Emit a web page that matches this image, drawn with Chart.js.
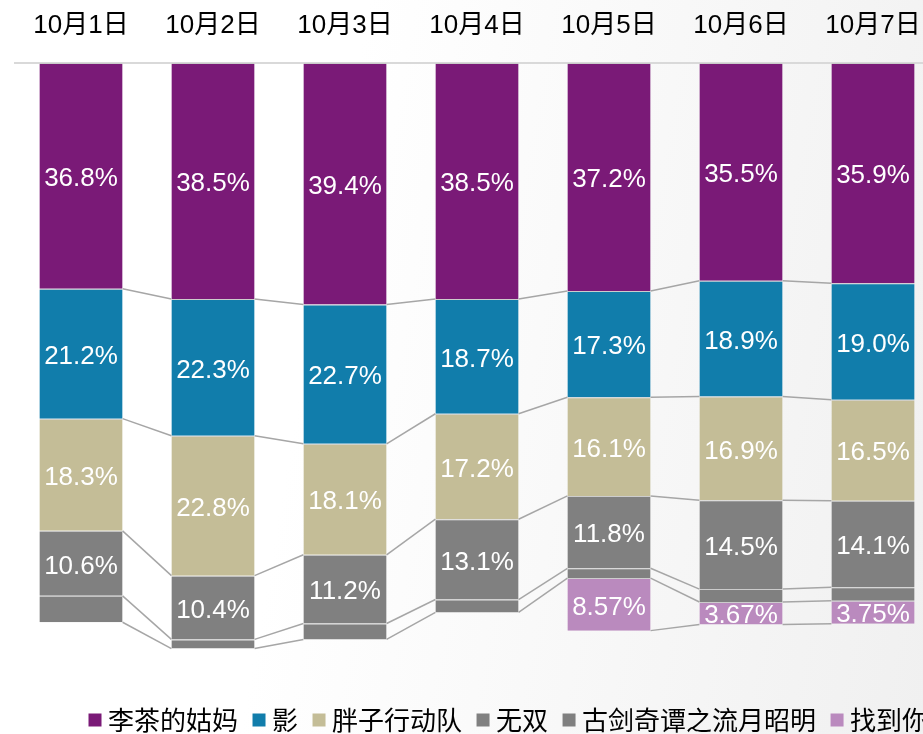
<!DOCTYPE html>
<html lang="zh">

<head>
    <meta charset="UTF-8">
    <meta name="viewport" content="width=device-width, initial-scale=1.0">
    <title>国庆档票房占比</title>
    <script src="https://cdn.jsdelivr.net/npm/chart.js"></script>
    <style>
        body {
            margin: 0;
            overflow: hidden;
            background: linear-gradient(100deg, #ffffff 35%, #f0f0f0 100%);
        }

        .area_grafico {
            position: relative;
            width: 960px;
            height: 734px;
        }
    </style>
</head>

<body>
    <div class="area_grafico">
        <canvas id="grafico"></canvas>
    </div>
</body>
<script>
    // dados (percentual por dia)
    const dias = ['10月1日', '10月2日', '10月3日', '10月4日', '10月5日', '10月6日', '10月7日'];
    const liCha = [36.8, 38.5, 39.4, 38.5, 37.2, 35.5, 35.9];
    const ying = [21.2, 22.3, 22.7, 18.7, 17.3, 18.9, 19.0];
    const pangzi = [18.3, 22.8, 18.1, 17.2, 16.1, 16.9, 16.5];
    const wushuang = [10.6, 10.4, 11.2, 13.1, 11.8, 14.5, 14.1];
    const gujian = [4.3, 1.5, 2.6, 2.1, 1.6, 2.1, 2.2];
    const zhaodaoni = [null, null, null, null, 8.57, 3.67, 3.75];

    const fonte = "'Liberation Sans', 'Noto Sans CJK SC', sans-serif";

    function serie(nome, valores, cor, casas, mostrar) {
        return {
            label: nome,
            data: valores,
            backgroundColor: cor,
            borderColor: 'rgba(200, 200, 200, 0.9)',
            borderWidth: { top: 1, right: 0, bottom: 0, left: 0 },
            borderSkipped: false,
            barPercentage: 0.63,
            categoryPercentage: 1,
            casas: casas,
            mostrarRotulo: mostrar
        }
    }

    // linhas ligando o fim de cada segmento entre barras vizinhas
    const linhasSerie = {
        id: 'linhasSerie',
        afterDatasetsDraw(chart) {
            const ctx = chart.ctx
            ctx.save()
            ctx.strokeStyle = '#A6A6A6'
            ctx.lineWidth = 1.5
            chart.data.datasets.forEach((ds, d) => {
                const barras = chart.getDatasetMeta(d).data
                for (let i = 0; i < barras.length - 1; i++) {
                    if (ds.data[i] == null || ds.data[i + 1] == null) continue
                    const a = barras[i], b = barras[i + 1]
                    ctx.beginPath()
                    ctx.moveTo(a.x + a.width / 2, a.y)
                    ctx.lineTo(b.x - b.width / 2, b.y)
                    ctx.stroke()
                }
            })
            ctx.restore()
        }
    }

    // rotulos brancos no meio de cada segmento
    const rotulos = {
        id: 'rotulos',
        afterDatasetsDraw(chart) {
            const ctx = chart.ctx
            ctx.save()
            ctx.fillStyle = '#ffffff'
            ctx.font = '26px ' + fonte
            ctx.textAlign = 'center'
            ctx.textBaseline = 'middle'
            chart.data.datasets.forEach((ds, d) => {
                if (!ds.mostrarRotulo) return
                chart.getDatasetMeta(d).data.forEach((barra, i) => {
                    const v = ds.data[i]
                    if (v == null) return
                    ctx.fillText(v.toFixed(ds.casas) + '%', barra.x, (barra.y + barra.base) / 2 + 3)
                })
            })
            ctx.restore()
        }
    }

    // legenda mais baixa e deslocada como no original
    const ajusteLegenda = {
        id: 'ajusteLegenda',
        beforeLayout(chart) {
            const leg = chart.legend
            if (leg && !leg._alturaFixa) {
                const fit = leg.fit
                leg.fit = function () {
                    fit.call(this)
                    this.height = 48
                }
                leg._alturaFixa = true
            }
        },
        afterLayout(chart) {
            chart.legend.left += 59
            chart.legend.right += 59
        }
    }

    const dados = {
        labels: dias,
        datasets: [
            serie('李茶的姑妈', liCha, '#7A1A77', 1, true),
            serie('影', ying, '#117DAB', 1, true),
            serie('胖子行动队', pangzi, '#C4BD97', 1, true),
            serie('无双', wushuang, '#808080', 1, true),
            serie('古剑奇谭之流月昭明', gujian, '#808080', 1, false),
            serie('找到你', zhaodaoni, '#BA8ABE', 2, true)
        ]
    }

    const config = {
        type: 'bar',
        data: dados,
        plugins: [linhasSerie, rotulos, ajusteLegenda],
        options: {
            responsive: true,
            maintainAspectRatio: false,
            animation: false,
            layout: { padding: { left: 15, right: 21, top: 0, bottom: 0 } },
            plugins: {
                tooltip: { enabled: false },
                legend: {
                    position: 'bottom',
                    align: 'start',
                    labels: {
                        usePointStyle: true,
                        pointStyle: 'rect',
                        boxWidth: 0.01,
                        boxHeight: 13,
                        padding: 21,
                        color: '#000',
                        font: { size: 26, family: "'Noto Sans CJK SC', sans-serif" },
                        generateLabels(chart) {
                            const itens = Chart.defaults.plugins.legend.labels.generateLabels(chart)
                            itens.forEach(item => { item.lineWidth = 0 })
                            return itens
                        }
                    }
                }
            },
            scales: {
                x: {
                    position: 'top',
                    stacked: true,
                    grid: { display: false },
                    border: { color: '#D9D9D9', width: 2 },
                    ticks: { color: '#000', padding: 14, font: { size: 26, family: fonte } },
                    afterFit(escala) { escala.height = 63 }
                },
                y: {
                    stacked: true,
                    reverse: true,
                    min: 0,
                    max: 101.6,
                    display: false
                }
            }
        }
    }

    new Chart('grafico', config)
</script>

</html>
